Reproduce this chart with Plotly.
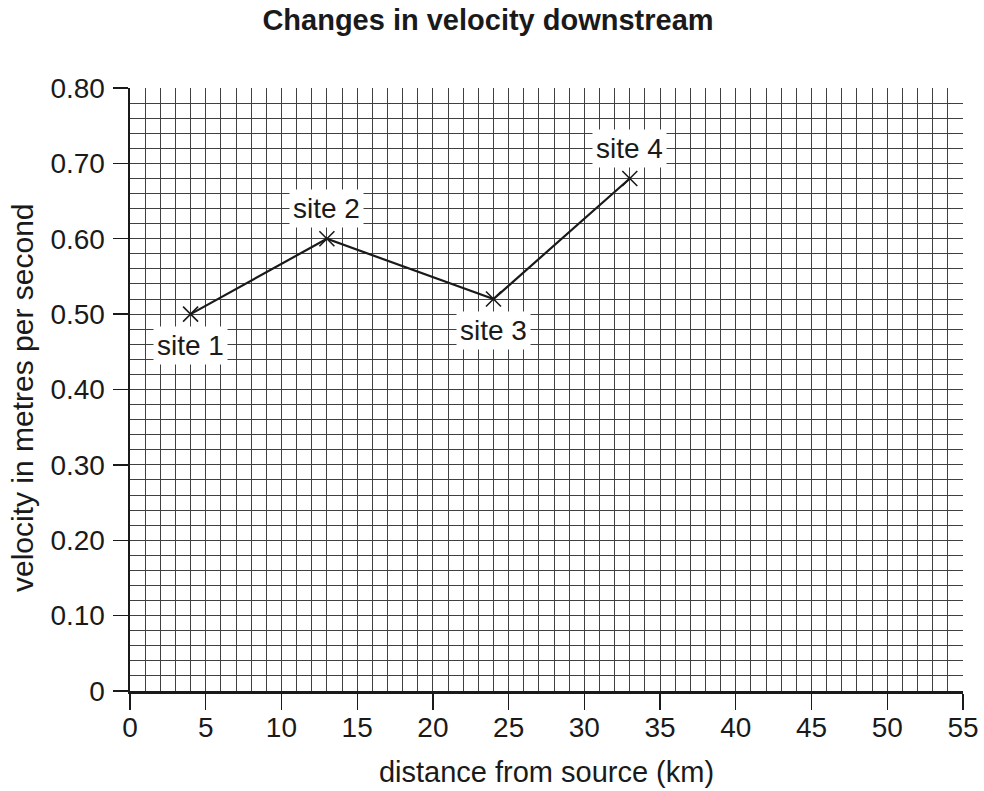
import plotly.graph_objects as go

# ---- data ----
distance_km = [4, 13, 24, 33]
velocity_ms = [0.50, 0.60, 0.52, 0.68]
site_labels = ["site 1", "site 2", "site 3", "site 4"]
label_above = [False, True, False, True]

x_tick_vals = [0, 5, 10, 15, 20, 25, 30, 35, 40, 45, 50, 55]
y_tick_vals = [0, 0.1, 0.2, 0.3, 0.4, 0.5, 0.6, 0.7, 0.8]
y_tick_text = ["0", "0.10", "0.20", "0.30", "0.40", "0.50", "0.60", "0.70", "0.80"]

FONT = "Liberation Sans, Arial, sans-serif"
GRID = "#404040"
INK = "#1a1a1a"

W, H = 984, 791
L, R, T, B = 130, 21, 88, 100
PW, PH = W - L - R, H - T - B

fig = go.Figure()
fig.add_trace(go.Scatter(
    x=distance_km, y=velocity_ms, mode="lines+markers",
    line=dict(color=INK, width=2.2),
    marker=dict(symbol="x-thin", size=15, line=dict(color=INK, width=1.6)),
    showlegend=False, hoverinfo="skip",
))

for x, y, t, up in zip(distance_km, velocity_ms, site_labels, label_above):
    fig.add_annotation(
        x=x, y=y, xref="x", yref="y", text=t, showarrow=False,
        yshift=30 if up else -31, xanchor="center", yanchor="middle",
        bgcolor="white", borderpad=3,
        font=dict(family=FONT, size=28, color=INK),
    )

# y-axis title placed as a rotated text beside the axis
fig.add_annotation(
    text="velocity in metres per second", textangle=-90, showarrow=False,
    xref="paper", yref="paper",
    x=(22 - L) / PW, y=(H - B - 398) / PH, xanchor="center", yanchor="middle",
    font=dict(family=FONT, size=30, color=INK),
)

fig.update_layout(
    width=W, height=H,
    margin=dict(l=L, r=R, t=T, b=B, autoexpand=False),
    paper_bgcolor="white", plot_bgcolor="white",
    font=dict(family=FONT, color=INK),
    title=dict(
        text="<b>Changes in velocity downstream</b>",
        x=488 / W, xref="container", xanchor="center",
        y=1 - 20 / H, yref="container", yanchor="middle",
        font=dict(family=FONT, size=29, color=INK),
        automargin=False,
    ),
    xaxis=dict(
        range=[0, 55], tickmode="array", tickvals=x_tick_vals,
        automargin=False,
        showgrid=True, gridcolor=GRID, gridwidth=1,
        minor=dict(dtick=1, tick0=0, showgrid=True, gridcolor=GRID, gridwidth=1),
        showline=True, linecolor=INK, linewidth=2.5,
        ticks="outside", ticklen=16, tickwidth=1.3, tickcolor=INK,
        ticklabelstandoff=-6,
        tickfont=dict(family=FONT, size=28, color=INK),
        zeroline=False,
        title=dict(text="distance from source (km)", standoff=20,
                   font=dict(family=FONT, size=29, color=INK)),
    ),
    yaxis=dict(
        range=[0, 0.8], tickmode="array", tickvals=y_tick_vals, ticktext=y_tick_text,
        automargin=False,
        showgrid=True, gridcolor=GRID, gridwidth=1,
        minor=dict(dtick=0.02, tick0=0, showgrid=True, gridcolor=GRID, gridwidth=1),
        showline=True, linecolor=INK, linewidth=2.5,
        ticks="outside", ticklen=15, tickwidth=1.3, tickcolor=INK,
        ticklabelstandoff=2,
        tickfont=dict(family=FONT, size=28, color=INK),
        zeroline=False,
    ),
)

# remove the browser's default page margin so the 984x791 figure fills the window exactly
fig.write_html(
    "out.html",
    config={"displayModeBar": False, "staticPlot": True},
    post_script="document.body.style.margin='0';document.body.style.overflow='hidden';",
)
